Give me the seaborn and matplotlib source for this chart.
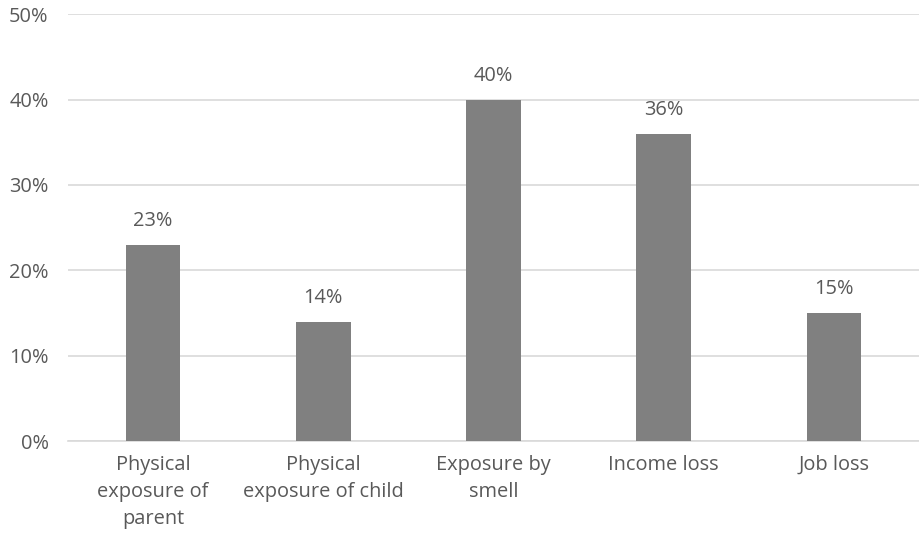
import matplotlib
matplotlib.use("Agg")
import matplotlib.pyplot as plt
import seaborn as sns
import pandas as pd
from matplotlib.ticker import PercentFormatter

categories = ["Physical\nexposure of\nparent", "Physical\nexposure of child",
              "Exposure by\nsmell", "Income loss", "Job loss"]
values = [23, 14, 40, 36, 15]
value_labels = ["23%", "14%", "40%", "36%", "15%"]

df = pd.DataFrame({"category": categories, "value": values})

sns.set_theme(style="white")
plt.rcParams["font.family"] = ["Open Sans", "DejaVu Sans"]

txt = "#595959"
fig = plt.figure(figsize=(9.19, 5.42), dpi=100)
ax = fig.add_axes([0.074, 0.186, 0.926, 0.788])

sns.barplot(data=df, x="category", y="value", color="#808080", saturation=1,
            width=0.32, linewidth=0, ax=ax, zorder=3)

ax.set_ylim(0, 50)
ax.set_yticks(range(0, 51, 10))
ax.yaxis.set_major_formatter(PercentFormatter(decimals=0))
ax.grid(axis="y", color="#D9D9D9", linewidth=1.2, zorder=0)
ax.set_axisbelow(True)
for s in ["top", "right", "left"]:
    ax.spines[s].set_visible(False)
ax.spines["bottom"].set_color("#D9D9D9")
ax.spines["bottom"].set_linewidth(1.2)
ax.set_xlabel("")
ax.set_ylabel("")
ax.tick_params(axis="both", length=0, labelsize=14.4, colors=txt, pad=10)
ax.tick_params(axis="y", pad=14)
for lab in ax.get_xticklabels():
    lab.set_linespacing(1.45)

for i, (v, l) in enumerate(zip(values, value_labels)):
    ax.annotate(l, (i, v), xytext=(0, 10), textcoords="offset points",
                ha="center", va="bottom", fontsize=14.4, color=txt)

fig.savefig("out.png", dpi=100)
